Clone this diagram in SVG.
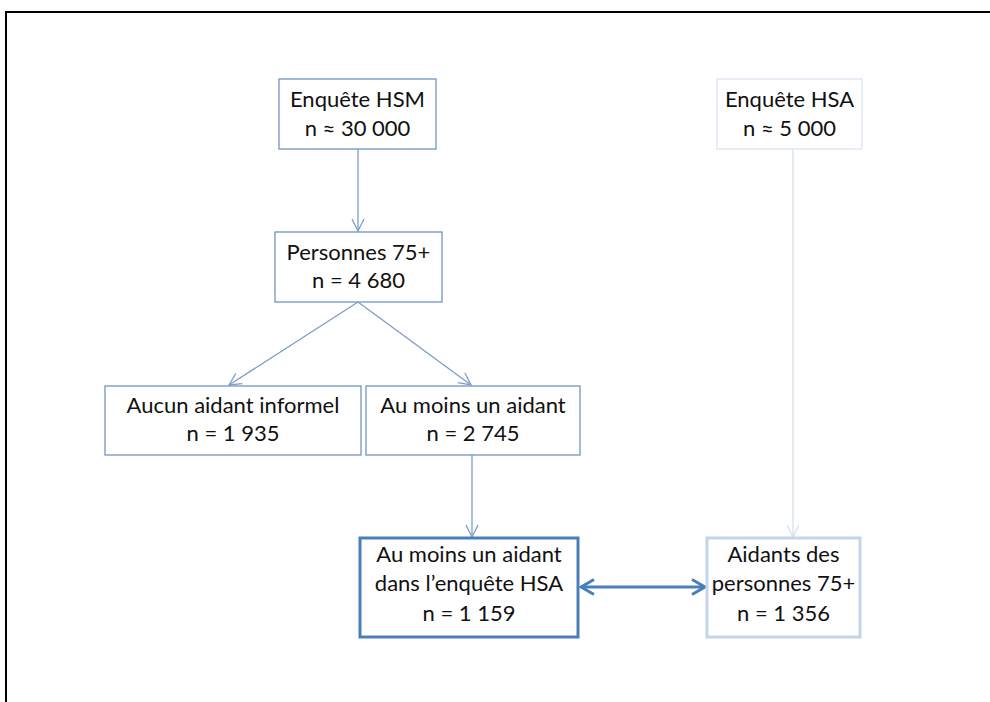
<svg xmlns="http://www.w3.org/2000/svg" width="990" height="702" viewBox="0 0 990 702">
<defs>
<style>
.t{font-family:Lato,"Open Sans","Liberation Sans",sans-serif;font-size:22px;fill:#111;text-anchor:middle}
.b{fill:#fff;stroke:#7094c4;stroke-width:1.3}
.bk{fill:#fff;stroke:#4a7ebb;stroke-width:3}
.bl{fill:#fff;stroke:#dae4f1;stroke-width:1.3}
.bl2{fill:#fff;stroke:#c4d5ea;stroke-width:3}
.c{stroke:#7f9dc8;stroke-width:1.3;fill:none}
.cl{stroke:#d6e1ef;stroke-width:1.3;fill:none}
.cd{stroke:#4a7ebb;stroke-width:3;fill:none}
</style>
<marker id="a" viewBox="0 0 14 14" refX="13" refY="7" markerWidth="14" markerHeight="14" markerUnits="userSpaceOnUse" orient="auto">
<polyline points="1,1 13,7 1,13" fill="none" stroke="#7f9dc8" stroke-width="1.3"/>
</marker>
<marker id="al" viewBox="0 0 14 14" refX="13" refY="7" markerWidth="14" markerHeight="14" markerUnits="userSpaceOnUse" orient="auto">
<polyline points="1,1 13,7 1,13" fill="none" stroke="#d6e1ef" stroke-width="1.3"/>
</marker>
<marker id="ad" viewBox="0 0 18 18" refX="16" refY="9" markerWidth="18" markerHeight="18" markerUnits="userSpaceOnUse" orient="auto-start-reverse">
<polyline points="3,1.5 16,9 3,16.5" fill="none" stroke="#4a7ebb" stroke-width="3"/>
</marker>
</defs>
<rect width="990" height="702" fill="#fff"/>
<path d="M6,702 V12 H990" fill="none" stroke="#000" stroke-width="2"/>
<g id="connectors">
<line class="c" x1="358" y1="149" x2="358" y2="231" marker-end="url(#a)"/>
<line class="c" x1="358" y1="302" x2="229" y2="385" marker-end="url(#a)"/>
<line class="c" x1="358" y1="302" x2="471" y2="385" marker-end="url(#a)"/>
<line class="c" x1="472" y1="455" x2="472" y2="537" marker-end="url(#a)"/>
<line class="cl" x1="793" y1="149" x2="793" y2="537" marker-end="url(#al)"/>
<line class="cd" x1="581" y1="587" x2="705" y2="587" marker-start="url(#ad)" marker-end="url(#ad)"/>
</g>
<g id="n-hsm">
<rect class="b" x="279" y="79" width="157" height="70"/>
<text class="t" x="357.5" y="107">Enquête HSM</text>
<text class="t" x="357.5" y="136">n ≈ 30 000</text>
</g>
<g id="n-hsa">
<rect class="bl" x="717" y="79" width="145" height="70"/>
<text class="t" x="789.5" y="107">Enquête HSA</text>
<text class="t" x="789.5" y="136">n ≈ 5 000</text>
</g>
<g id="n-75">
<rect class="b" x="275" y="232" width="167" height="70"/>
<text class="t" x="358.5" y="260">Personnes 75+</text>
<text class="t" x="358.5" y="288">n = 4 680</text>
</g>
<g id="n-aucun">
<rect class="b" x="105" y="386" width="256" height="69"/>
<text class="t" x="233" y="413">Aucun aidant informel</text>
<text class="t" x="233" y="441">n = 1 935</text>
</g>
<g id="n-moins">
<rect class="b" x="366" y="386" width="214" height="69"/>
<text class="t" x="473" y="413">Au moins un aidant</text>
<text class="t" x="473" y="441">n = 2 745</text>
</g>
<g id="n-hsa-aidant">
<rect class="bk" x="360" y="538" width="218" height="99"/>
<text class="t" x="469" y="562">Au moins un aidant</text>
<text class="t" x="469" y="591">dans l’enquête HSA</text>
<text class="t" x="469" y="621">n = 1 159</text>
</g>
<g id="n-aidants75">
<rect class="bl2" x="707" y="538" width="153" height="99"/>
<text class="t" x="783.5" y="562">Aidants des</text>
<text class="t" x="783.5" y="591">personnes 75+</text>
<text class="t" x="783.5" y="621">n = 1 356</text>
</g>
</svg>
